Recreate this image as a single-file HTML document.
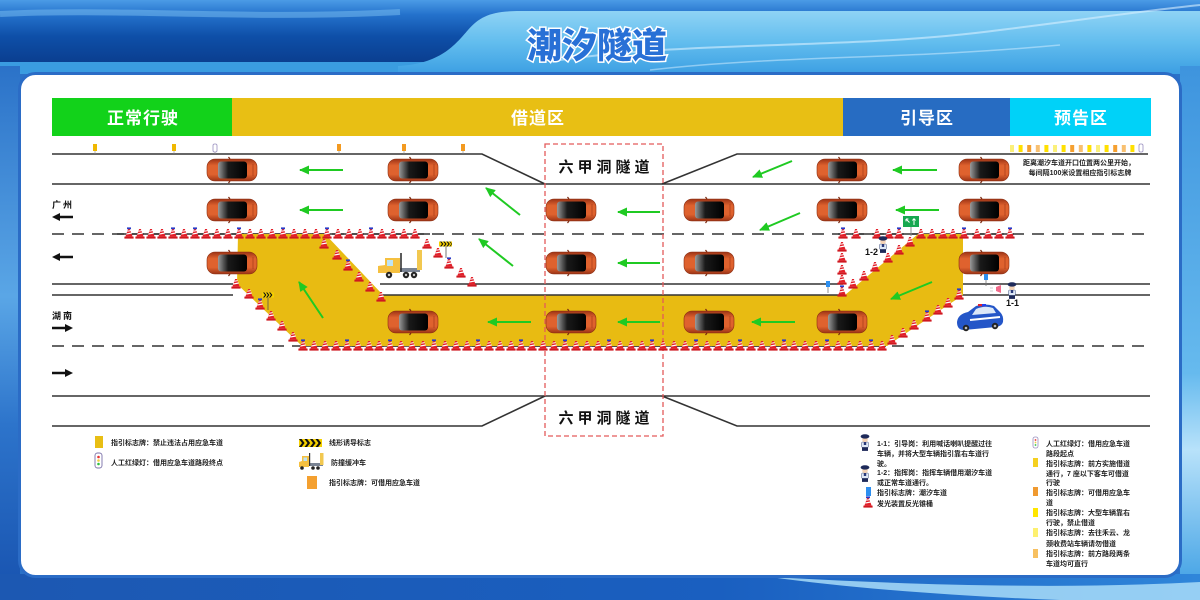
<!DOCTYPE html>
<html><head><meta charset="utf-8"><style>
html,body{margin:0;padding:0;background:#fff;}
svg{display:block;}
text{font-family:"Liberation Sans","Noto Sans CJK SC",sans-serif;font-weight:bold;}
.lg{font-size:7px;fill:#222;}
</style></head><body>
<svg width="1200" height="600" viewBox="0 0 1200 600" xmlns="http://www.w3.org/2000/svg" xmlns:xlink="http://www.w3.org/1999/xlink">
<defs>
 <linearGradient id="topL" x1="0" y1="0" x2="0" y2="1">
  <stop offset="0" stop-color="#4b9be6"/><stop offset="0.22" stop-color="#2472cc"/>
  <stop offset="0.55" stop-color="#0e4fa8"/><stop offset="1" stop-color="#0a3c8c"/>
 </linearGradient>
 <linearGradient id="tab" x1="0" y1="0" x2="0" y2="1">
  <stop offset="0" stop-color="#8fd3f5"/><stop offset="0.5" stop-color="#62bdee"/><stop offset="1" stop-color="#3c9fe3"/>
 </linearGradient>
 <linearGradient id="lside" x1="0" y1="0" x2="0" y2="1">
  <stop offset="0" stop-color="#2b72c8"/><stop offset="0.45" stop-color="#5aa6e6"/>
  <stop offset="0.7" stop-color="#2d74cb"/><stop offset="1" stop-color="#1a56b2"/>
 </linearGradient>
 <linearGradient id="rside" x1="0" y1="0" x2="0" y2="1">
  <stop offset="0" stop-color="#3e94de"/><stop offset="0.6" stop-color="#66baee"/>
  <stop offset="0.75" stop-color="#b8e2fa"/><stop offset="1" stop-color="#4aa6e6"/>
 </linearGradient>
 <linearGradient id="bot" x1="0" y1="0" x2="1" y2="0">
  <stop offset="0" stop-color="#1c58b2"/><stop offset="0.6" stop-color="#1a5fc0"/><stop offset="1" stop-color="#2f86da"/>
 </linearGradient>
 <linearGradient id="cb" x1="0" y1="0" x2="0" y2="1">
  <stop offset="0" stop-color="#9c3416"/><stop offset="0.3" stop-color="#df622e"/>
  <stop offset="0.7" stop-color="#df622e"/><stop offset="1" stop-color="#9c3416"/>
 </linearGradient>
 <linearGradient id="cg" x1="0" y1="0" x2="1" y2="0">
  <stop offset="0" stop-color="#9a9a9a"/><stop offset="0.35" stop-color="#1a1a1a"/><stop offset="1" stop-color="#000"/>
 </linearGradient>
 <marker id="ga" markerUnits="userSpaceOnUse" markerWidth="11" markerHeight="9" refX="9" refY="4.5" orient="auto">
  <path d="M0,0 L10,4.5 L0,9 Z" fill="#1fca22"/>
 </marker>
 <g id="car">
  <rect x="-25" y="-11" width="50" height="22" rx="8" fill="url(#cb)" stroke="#8a2c10" stroke-width="0.6"/>
  <rect x="-14" y="-8.5" width="29" height="17" rx="3" fill="url(#cg)"/>
  <path d="M-2,-11 l-1.5,-2 M-2,11 l-1.5,2" stroke="#7a2a10" stroke-width="1.2"/>
  <path d="M21,-6 v12" stroke="#9c3416" stroke-width="0.6"/>
 </g>
 <g id="cone">
  <rect x="-4.6" y="2.6" width="9.2" height="2" fill="#cf1820"/>
  <path d="M-3.6,2.6 L-0.9,-5 L0.9,-5 L3.6,2.6Z" fill="#e2202a"/>
  <path d="M-2.8,0.6 L2.8,-0.4 L2.5,-1.6 L-2.4,-0.6Z" fill="#fff"/>
  <path d="M-1.8,-2.2 L1.8,-2.9 L1.5,-3.9 L-1.5,-3.3Z" fill="#fff"/>
 </g>
 <g id="coneB">
  <use href="#cone"/>
  <rect x="-2" y="-6.6" width="4" height="1.8" fill="#2a3cc8"/>
 </g>
 <g id="cop">
  <rect x="-3.4" y="1" width="6.8" height="5.5" rx="1" fill="#dfe8f6" stroke="#3a4a7a" stroke-width="0.5"/>
  <rect x="-3" y="6.3" width="6" height="3.6" fill="#1e2a5a"/>
  <circle cx="0" cy="-1.5" r="2.8" fill="#f3d2b5"/>
  <ellipse cx="0" cy="-4.6" rx="4.4" ry="2.2" fill="#1e2a5a"/>
  <rect x="-1.2" y="1" width="2.4" height="3" fill="#2a3a7a"/>
 </g>
</defs>

<!-- background -->
<rect x="0" y="0" width="1200" height="600" fill="#2a72c8"/>
<rect x="0" y="0" width="1200" height="66" fill="url(#topL)"/>
<rect x="0" y="62" width="1200" height="12" fill="#3a9ce0"/>
<path d="M398,66 C440,64 455,45 468,30 C480,16 492,11 520,11 L1200,11 L1200,74 L398,74 Z" fill="url(#tab)"/>
<path d="M560,60 C700,40 850,50 1000,30 C1080,20 1150,10 1200,5" stroke="#d8f0ff" stroke-width="2" fill="none" opacity="0.6"/>
<path d="M650,70 C780,55 900,60 1060,45" stroke="#d8f0ff" stroke-width="1.5" fill="none" opacity="0.5"/>
<path d="M0,14 C120,8 250,20 400,12" stroke="#7cc0f2" stroke-width="6" fill="none" opacity="0.5"/>
<rect x="0" y="66" width="20" height="512" fill="url(#lside)"/>
<rect x="1180" y="66" width="20" height="512" fill="url(#rside)"/>
<rect x="0" y="574" width="1200" height="26" fill="url(#bot)"/>
<path d="M770,577 C900,584 1050,590 1200,582 L1200,600 L1060,600 C950,596 850,588 770,577 Z" fill="#a8dcf8" opacity="0.85"/>

<!-- panel -->
<rect x="19.5" y="73.5" width="1161" height="503" rx="16" fill="#fff" stroke="#2b6cc6" stroke-width="3"/>

<!-- title -->
<text x="597" y="58" text-anchor="middle" font-size="35" fill="#2870d6" stroke="#ffffff" stroke-width="3" paint-order="stroke" letter-spacing="0" style="font-family:'Noto Sans CJK SC',sans-serif;font-weight:900">潮汐隧道</text>

<!-- header bar -->
<rect x="52" y="98" width="180" height="38" fill="#12d21a"/>
<rect x="232" y="98" width="611" height="38" fill="#e8bf14"/>
<rect x="843" y="98" width="167" height="38" fill="#276cc2"/>
<rect x="1010" y="98" width="141" height="38" fill="#00d2f8"/>
<g font-size="17" fill="#fff" text-anchor="middle" letter-spacing="1">
 <text x="143" y="124">正常行驶</text>
 <text x="538" y="124">借道区</text>
 <text x="927" y="124">引导区</text>
 <text x="1081" y="124">预告区</text>
</g>

<!-- road lines -->
<g stroke="#333" stroke-width="1.6" fill="none">
 <path d="M52,154 H482 L545,184"/>
 <path d="M662,184 L737,154 H1148"/>
 <path d="M52,184 H1150"/>
 <path d="M52,396 H1150"/>
 <path d="M52,426 H482 L545,396"/>
 <path d="M662,396 L737,426 H1150"/>
 <path d="M52,284 H233 M52,295 H233"/>
 <path d="M962,284 H1150 M962,295 H1150"/>
 <path d="M52,234 H1150" stroke-dasharray="12 8"/>
 <path d="M52,346 H1150" stroke-dasharray="12 8"/>
 <path d="M117,234 H430 M300,346 H886 M838,234 H1014"/>
</g>

<!-- yellow borrowed lane -->
<path d="M238,234 L325,234 L383,295 L845,295 L918,234 L963,234 L963,295 L887,346 L302,346 L237,284 Z" fill="#e8bb12"/>
<g stroke="#333" stroke-width="1.6">
 <path d="M380,284 H843"/>
 <path d="M383,295 H845"/>
</g>

<!-- tunnel -->
<rect x="545" y="144" width="118" height="292" fill="none" stroke="#e35a5a" stroke-width="1.3" stroke-dasharray="5 3"/>
<g font-size="15" fill="#111" text-anchor="middle" letter-spacing="4" style="font-family:'Noto Sans CJK SC',sans-serif;font-weight:bold">
 <text x="606" y="172">六甲洞隧道</text>
 <text x="606" y="423">六甲洞隧道</text>
</g>

<!-- top signs -->
<g stroke="#888" stroke-width="0.6">
 <path d="M95,151 V154 M174,151 V154 M215,152 V154 M339,151 V154 M404,151 V154 M463,151 V154"/>
</g>
<rect x="93" y="144" width="4" height="7" fill="#f0b800"/>
<rect x="172" y="144" width="4" height="7" fill="#f0b800"/>
<rect x="213" y="144" width="4" height="8" rx="1.5" fill="#fff" stroke="#9a90c0" stroke-width="0.8"/>
<rect x="337" y="144" width="4" height="7" fill="#f39a20"/>
<rect x="402" y="144" width="4" height="7" fill="#f39a20"/>
<rect x="461" y="144" width="4" height="7" fill="#f39a20"/>
<g>
 <rect x="1010" y="145" width="4" height="7" fill="#fbf07a"/>
 <rect x="1018.6" y="145" width="4" height="7" fill="#ffe000"/>
 <rect x="1027.2" y="145" width="4" height="7" fill="#f5a030"/>
 <rect x="1035.8" y="145" width="4" height="7" fill="#f8c070"/>
 <rect x="1044.4" y="145" width="4" height="7" fill="#ffe000"/>
 <rect x="1053" y="145" width="4" height="7" fill="#fbf07a"/>
 <rect x="1061.6" y="145" width="4" height="7" fill="#ffe000"/>
 <rect x="1070.2" y="145" width="4" height="7" fill="#f5a030"/>
 <rect x="1078.8" y="145" width="4" height="7" fill="#f8c070"/>
 <rect x="1087.4" y="145" width="4" height="7" fill="#ffe000"/>
 <rect x="1096" y="145" width="4" height="7" fill="#fbf07a"/>
 <rect x="1104.6" y="145" width="4" height="7" fill="#ffe000"/>
 <rect x="1113.2" y="145" width="4" height="7" fill="#f5a030"/>
 <rect x="1121.8" y="145" width="4" height="7" fill="#f8c070"/>
 <rect x="1130.4" y="145" width="4" height="7" fill="#ffe000"/>
 <rect x="1139" y="144" width="4" height="8" rx="1.5" fill="#fff" stroke="#9a90c0" stroke-width="0.8"/>
</g>
<g font-size="7" fill="#222" text-anchor="middle">
 <text x="1079" y="165">距离潮汐车道开口位置两公里开始，</text>
 <text x="1080" y="175">每间隔100米设置相应指引标志牌</text>
</g>

<!-- direction labels -->
<g font-size="9" fill="#111" letter-spacing="2">
 <text x="52" y="208">广州</text>
 <text x="52" y="319">湖南</text>
</g>
<g fill="#111">
 <path d="M52,217 L60,213 L60,215.8 L73,215.8 L73,218.2 L60,218.2 L60,221 Z"/>
 <path d="M52,257 L60,253 L60,255.8 L73,255.8 L73,258.2 L60,258.2 L60,261 Z"/>
 <path d="M73,328 L65,324 L65,326.8 L52,326.8 L52,329.2 L65,329.2 L65,332 Z"/>
 <path d="M73,373 L65,369 L65,371.8 L52,371.8 L52,374.2 L65,374.2 L65,377 Z"/>
</g>

<!-- cars -->
<use href="#car" x="232" y="170"/><use href="#car" x="413" y="170"/><use href="#car" x="842" y="170"/><use href="#car" x="984" y="170"/>
<use href="#car" x="232" y="210"/><use href="#car" x="413" y="210"/><use href="#car" x="571" y="210"/><use href="#car" x="709" y="210"/><use href="#car" x="842" y="210"/><use href="#car" x="984" y="210"/>
<use href="#car" x="232" y="263"/><use href="#car" x="571" y="263"/><use href="#car" x="709" y="263"/><use href="#car" x="984" y="263"/>
<use href="#car" x="413" y="322"/><use href="#car" x="571" y="322"/><use href="#car" x="709" y="322"/><use href="#car" x="842" y="322"/>

<!-- green arrows -->
<g stroke="#1fca22" stroke-width="2" marker-end="url(#ga)">
 <line x1="343" y1="170" x2="300" y2="170"/>
 <line x1="343" y1="210" x2="300" y2="210"/>
 <line x1="520" y1="215" x2="486" y2="188"/>
 <line x1="513" y1="266" x2="479" y2="239"/>
 <line x1="323" y1="318" x2="299" y2="282"/>
 <line x1="531" y1="322" x2="488" y2="322"/>
 <line x1="660" y1="212" x2="618" y2="212"/>
 <line x1="660" y1="263" x2="618" y2="263"/>
 <line x1="660" y1="322" x2="618" y2="322"/>
 <line x1="792" y1="161" x2="753" y2="177"/>
 <line x1="937" y1="170" x2="893" y2="170"/>
 <line x1="800" y1="213" x2="760" y2="230"/>
 <line x1="939" y1="210" x2="896" y2="210"/>
 <line x1="795" y1="322" x2="752" y2="322"/>
 <line x1="932" y1="282" x2="891" y2="299"/>
</g>

<!-- truck -->
<g>
 <rect x="400" y="268" width="20" height="4" fill="#7a8494"/>
 <rect x="400.2" y="253" width="1.6" height="19" fill="#333"/>
 <rect x="417" y="250" width="5" height="20" fill="#f2c850"/>
 <path d="M378,266 L385,265 L385,258 L400,258 L400,273 L378,273 Z" fill="#f5c040"/>
 <rect x="387" y="260" width="6" height="6" fill="#bde3f5"/>
 <circle cx="389" cy="275" r="3.2" fill="#222"/><circle cx="389" cy="275" r="1.2" fill="#ccc"/>
 <circle cx="406" cy="275" r="3.2" fill="#222"/><circle cx="406" cy="275" r="1.2" fill="#ccc"/>
 <circle cx="414" cy="275" r="3.2" fill="#222"/><circle cx="414" cy="275" r="1.2" fill="#ccc"/>
</g>

<!-- chevron signs -->
<g>
 <path d="M446,246 V258 M268,297 V310" stroke="#555" stroke-width="0.8"/>
 <rect x="439" y="241.5" width="13" height="5" fill="#f5d000"/>
 <path d="M440,241.5 l2,2.5 l-2,2.5 h1.4 l2,-2.5 l-2,-2.5z M443.2,241.5 l2,2.5 l-2,2.5 h1.4 l2,-2.5 l-2,-2.5z M446.4,241.5 l2,2.5 l-2,2.5 h1.4 l2,-2.5 l-2,-2.5z M449.4,241.5 l2,2.5 l-2,2.5 h1 l1.6,-2.5 l-1.6,-2.5z" fill="#111"/>
 <rect x="262" y="292.5" width="12" height="5" fill="#f5d000"/>
 <path d="M263,292.5 l2,2.5 l-2,2.5 h1.4 l2,-2.5 l-2,-2.5z M266,292.5 l2,2.5 l-2,2.5 h1.4 l2,-2.5 l-2,-2.5z M269,292.5 l2,2.5 l-2,2.5 h1.4 l2,-2.5 l-2,-2.5z" fill="#111"/>
</g>

<!-- cones: top-left row -->
<g>
<use href="#coneB" x="129" y="234"/><use href="#cone" x="140" y="234"/><use href="#cone" x="151" y="234"/><use href="#cone" x="162" y="234"/>
<use href="#coneB" x="173" y="234"/><use href="#cone" x="184" y="234"/><use href="#coneB" x="195" y="234"/><use href="#cone" x="206" y="234"/>
<use href="#cone" x="217" y="234"/><use href="#cone" x="228" y="234"/><use href="#coneB" x="239" y="234"/><use href="#cone" x="250" y="234"/>
<use href="#cone" x="261" y="234"/><use href="#cone" x="272" y="234"/><use href="#coneB" x="283" y="234"/><use href="#cone" x="294" y="234"/>
<use href="#cone" x="305" y="234"/><use href="#cone" x="316" y="234"/><use href="#coneB" x="327" y="234"/><use href="#cone" x="338" y="234"/>
<use href="#cone" x="349" y="234"/><use href="#cone" x="360" y="234"/><use href="#coneB" x="371" y="234"/><use href="#cone" x="382" y="234"/>
<use href="#cone" x="393" y="234"/><use href="#cone" x="404" y="234"/><use href="#cone" x="415" y="234"/>
<!-- diagonals left -->
<use href="#cone" x="324" y="244"/><use href="#cone" x="337" y="255"/><use href="#coneB" x="348" y="266"/><use href="#cone" x="359" y="277"/><use href="#cone" x="370" y="287"/><use href="#cone" x="381" y="297"/>
<use href="#cone" x="427" y="244"/><use href="#cone" x="438" y="253"/><use href="#coneB" x="449" y="264"/><use href="#cone" x="461" y="273"/><use href="#cone" x="472" y="282"/>
<use href="#cone" x="236" y="284"/><use href="#cone" x="249" y="294"/><use href="#coneB" x="260" y="305"/><use href="#cone" x="271" y="316"/><use href="#cone" x="282" y="326"/><use href="#cone" x="293" y="337"/>
<!-- bottom row -->
<use href="#coneB" x="303" y="346"/><use href="#cone" x="314" y="346"/><use href="#cone" x="325" y="346"/><use href="#cone" x="336" y="346"/>
<use href="#coneB" x="347" y="346"/><use href="#cone" x="358" y="346"/><use href="#cone" x="369" y="346"/><use href="#cone" x="379" y="346"/>
<use href="#coneB" x="390" y="346"/><use href="#cone" x="401" y="346"/><use href="#cone" x="412" y="346"/><use href="#cone" x="423" y="346"/>
<use href="#coneB" x="434" y="346"/><use href="#cone" x="445" y="346"/><use href="#cone" x="456" y="346"/><use href="#cone" x="467" y="346"/>
<use href="#coneB" x="478" y="346"/><use href="#cone" x="489" y="346"/><use href="#cone" x="500" y="346"/><use href="#cone" x="511" y="346"/>
<use href="#coneB" x="521" y="346"/><use href="#cone" x="532" y="346"/><use href="#cone" x="543" y="346"/><use href="#cone" x="554" y="346"/>
<use href="#coneB" x="565" y="346"/><use href="#cone" x="576" y="346"/><use href="#cone" x="587" y="346"/><use href="#cone" x="598" y="346"/>
<use href="#coneB" x="609" y="346"/><use href="#cone" x="620" y="346"/><use href="#cone" x="631" y="346"/><use href="#cone" x="642" y="346"/>
<use href="#coneB" x="652" y="346"/><use href="#cone" x="663" y="346"/><use href="#cone" x="674" y="346"/><use href="#cone" x="685" y="346"/>
<use href="#coneB" x="696" y="346"/><use href="#cone" x="707" y="346"/><use href="#cone" x="718" y="346"/><use href="#cone" x="729" y="346"/>
<use href="#coneB" x="740" y="346"/><use href="#cone" x="751" y="346"/><use href="#cone" x="762" y="346"/><use href="#cone" x="773" y="346"/>
<use href="#coneB" x="784" y="346"/><use href="#cone" x="794" y="346"/><use href="#cone" x="805" y="346"/><use href="#cone" x="816" y="346"/>
<use href="#coneB" x="827" y="346"/><use href="#cone" x="838" y="346"/><use href="#cone" x="849" y="346"/><use href="#cone" x="860" y="346"/>
<use href="#coneB" x="871" y="346"/><use href="#cone" x="882" y="346"/>
<!-- right cones -->
<use href="#coneB" x="843" y="234"/><use href="#cone" x="856" y="234"/><use href="#cone" x="877" y="234"/><use href="#cone" x="889" y="234"/>
<use href="#coneB" x="899" y="234"/><use href="#cone" x="921" y="234"/><use href="#cone" x="932" y="234"/><use href="#cone" x="943" y="234"/>
<use href="#cone" x="953" y="234"/><use href="#coneB" x="964" y="234"/><use href="#cone" x="977" y="234"/><use href="#cone" x="988" y="234"/>
<use href="#cone" x="999" y="234"/><use href="#coneB" x="1010" y="234"/>
<use href="#cone" x="842" y="247"/><use href="#cone" x="842" y="258"/><use href="#cone" x="842" y="270"/><use href="#cone" x="842" y="280"/><use href="#coneB" x="842" y="292"/>
<use href="#cone" x="910" y="242"/><use href="#cone" x="899" y="250"/><use href="#cone" x="888" y="258"/><use href="#cone" x="875" y="267"/><use href="#cone" x="864" y="276"/><use href="#cone" x="853" y="284"/>
<use href="#coneB" x="959" y="295"/><use href="#cone" x="948" y="303"/><use href="#cone" x="938" y="310"/><use href="#coneB" x="927" y="317"/><use href="#cone" x="914" y="325"/><use href="#cone" x="903" y="333"/><use href="#cone" x="892" y="340"/>
</g>

<!-- green sign -->
<path d="M911,227 V236" stroke="#777" stroke-width="0.8"/>
<rect x="903" y="216" width="16" height="11" fill="#17a850"/>
<path d="M906,219 L909.5,222.5 M906,219 v2.4 M906,219 h2.4 M914,225 V219 M914,218.5 l-1.6,2 M914,218.5 l1.6,2" stroke="#fff" stroke-width="1" fill="none"/>

<!-- blue markers -->
<path d="M828,287 V293 M986,280 V286" stroke="#777" stroke-width="0.8"/>
<rect x="826" y="281" width="4" height="6" fill="#2d8ff0"/>
<rect x="984" y="274" width="4" height="6" fill="#2d8ff0"/>

<!-- police -->
<use href="#cop" x="883" y="243"/>
<text x="865" y="255" font-size="9" fill="#111">1-2</text>
<use href="#cop" x="1012" y="289"/>
<text x="1006" y="306" font-size="9" fill="#111">1-1</text>
<path d="M996,287 l5,-2 v8 l-5,-2z" fill="#f26a8a"/>
<path d="M993,288 h-3 M993,291 h-3" stroke="#999" stroke-width="0.6"/>

<!-- police car -->
<g>
 <path d="M957,322 Q958,314 968,312 L976,306 Q985,303 994,306 L1000,312 Q1004,316 1003,322 Q1002,326 996,327 L964,330 Q957,330 957,322Z" fill="#2456c8"/>
 <path d="M976,309 Q985,305 993,308 L996,313 L972,315 Z" fill="#dce8f8"/>
 <rect x="978" y="304" width="8" height="2.2" fill="#e02030"/>
 <rect x="982" y="304" width="4" height="2.2" fill="#2040f0"/>
 <path d="M970,320 L1000,317" stroke="#fff" stroke-width="2"/>
 <circle cx="966" cy="328" r="3.2" fill="#222"/><circle cx="995" cy="326" r="3.2" fill="#222"/>
 <circle cx="966" cy="328" r="1.3" fill="#bbb"/><circle cx="995" cy="326" r="1.3" fill="#bbb"/>
</g>

<!-- legend separator lines? (road bottom at 426 already) -->

<!-- legend left -->
<rect x="95" y="436" width="8" height="12" fill="#e8be14"/>
<text class="lg" x="111" y="445">指引标志牌：禁止违法占用应急车道</text>
<rect x="95" y="453" width="7" height="15" rx="2.5" fill="#fff" stroke="#7a70a8" stroke-width="0.9"/>
<circle cx="98.5" cy="457" r="1.3" fill="#e83030"/><circle cx="98.5" cy="460.5" r="1.3" fill="#f0d040"/><circle cx="98.5" cy="464" r="1.3" fill="#30c040"/>
<text class="lg" x="111" y="465">人工红绿灯：借用应急车道路段终点</text>

<rect x="299" y="439" width="23" height="8" fill="#f5d000"/>
<path d="M299,439 l3,4 l-3,4 h2.6 l3,-4 l-3,-4z M304.5,439 l3,4 l-3,4 h2.6 l3,-4 l-3,-4z M310,439 l3,4 l-3,4 h2.6 l3,-4 l-3,-4z M315.5,439 l3,4 l-3,4 h2.6 l3,-4 l-3,-4z" fill="#111"/>
<text class="lg" x="329" y="445">线形诱导标志</text>
<g>
 <rect x="309" y="463" width="14" height="3" fill="#7a8494"/>
 <rect x="309" y="453" width="1.2" height="13" fill="#333"/>
 <rect x="320" y="453" width="3.5" height="12" fill="#f2c850"/>
 <path d="M299,462 L302,461 L302,456 L309,456 L309,467 L299,467Z" fill="#f5c040"/>
 <rect x="303.5" y="457.5" width="3.5" height="3.5" fill="#bde3f5"/>
 <circle cx="302" cy="468" r="1.8" fill="#222"/><circle cx="313" cy="468" r="1.8" fill="#222"/><circle cx="318" cy="468" r="1.8" fill="#222"/>
</g>
<text class="lg" x="331" y="465">防撞缓冲车</text>
<rect x="307" y="476" width="10" height="13" fill="#f4a030"/>
<text class="lg" x="329" y="485">指引标志牌：可借用应急车道</text>

<!-- legend right-mid -->
<use href="#cop" x="865" y="441"/>
<text class="lg" x="877" y="446">1-1：引导岗：利用喊话喇叭提醒过往</text>
<text class="lg" x="877" y="456">车辆，并将大型车辆指引靠右车道行</text>
<text class="lg" x="877" y="466">驶。</text>
<use href="#cop" x="865" y="472"/>
<text class="lg" x="877" y="475">1-2：指挥岗：指挥车辆借用潮汐车道</text>
<text class="lg" x="877" y="485">或正常车道通行。</text>
<rect x="866" y="487" width="5" height="9" fill="#2d8ff0"/>
<text class="lg" x="877" y="495">指引标志牌：潮汐车道</text>
<use href="#coneB" x="868" y="503"/>
<text class="lg" x="877" y="506">发光装置反光锥桶</text>

<!-- legend right -->
<rect x="1033" y="437" width="5" height="11" rx="2" fill="#fff" stroke="#9a90c0" stroke-width="0.8"/>
<circle cx="1035.5" cy="440" r="0.9" fill="#e83030"/><circle cx="1035.5" cy="442.5" r="0.9" fill="#f0d040"/><circle cx="1035.5" cy="445" r="0.9" fill="#30c040"/>
<text class="lg" x="1046" y="446">人工红绿灯：借用应急车道</text>
<text class="lg" x="1046" y="456">路段起点</text>
<rect x="1033" y="458" width="5" height="9" fill="#f5d020"/>
<text class="lg" x="1046" y="466">指引标志牌：前方实施借道</text>
<text class="lg" x="1046" y="476">通行，7 座以下客车可借道</text>
<text class="lg" x="1046" y="485">行驶</text>
<rect x="1033" y="487" width="5" height="9" fill="#f09a30"/>
<text class="lg" x="1046" y="495">指引标志牌：可借用应急车</text>
<text class="lg" x="1046" y="505">道</text>
<rect x="1033" y="508" width="5" height="9" fill="#ffe600"/>
<text class="lg" x="1046" y="515">指引标志牌：大型车辆靠右</text>
<text class="lg" x="1046" y="525">行驶，禁止借道</text>
<rect x="1033" y="528" width="5" height="9" fill="#fdf070"/>
<text class="lg" x="1046" y="535">指引标志牌：去往禾云、龙</text>
<text class="lg" x="1046" y="546">颈收费站车辆请勿借道</text>
<rect x="1033" y="549" width="5" height="9" fill="#f7c060"/>
<text class="lg" x="1046" y="556">指引标志牌：前方路段两条</text>
<text class="lg" x="1046" y="566">车道均可直行</text>
</svg>
</body></html>
